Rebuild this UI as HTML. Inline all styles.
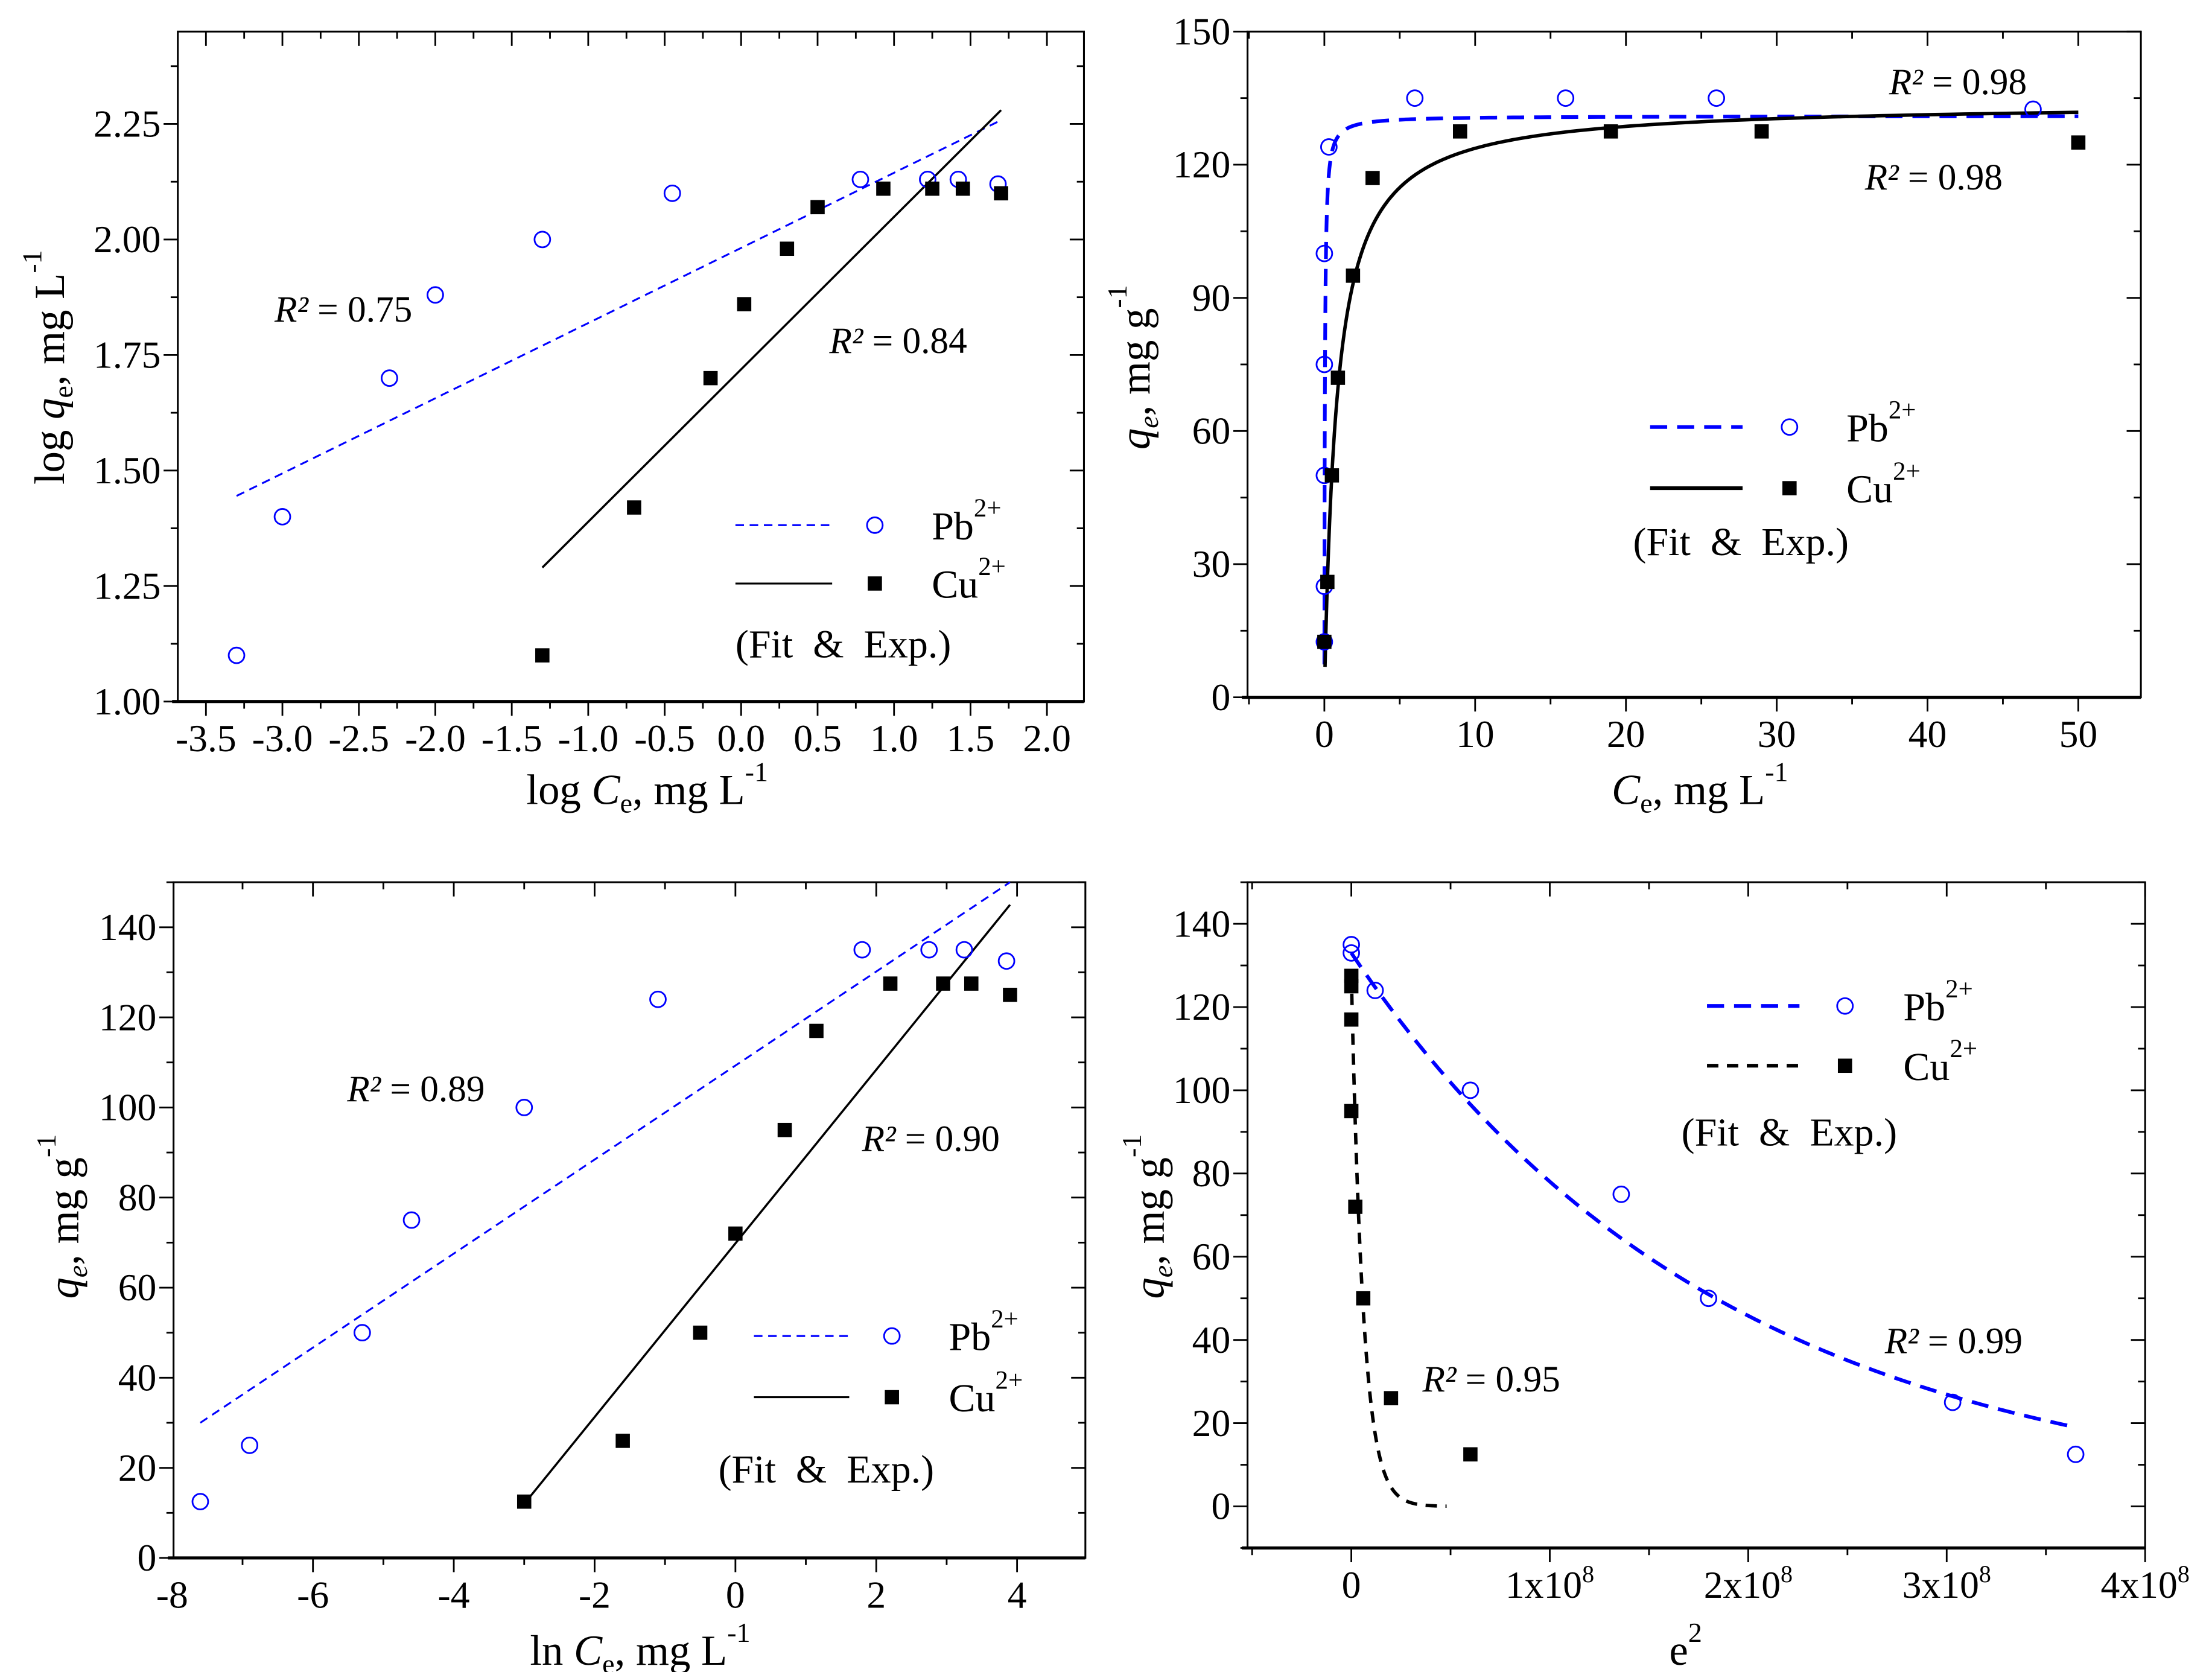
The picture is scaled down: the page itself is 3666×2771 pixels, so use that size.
<!DOCTYPE html>
<html><head><meta charset="utf-8"><style>
html,body{margin:0;padding:0;background:#fff;}
svg{display:block;font-family:"Liberation Serif","DejaVu Serif",serif;}
</style></head><body>
<svg id="fig" width="3666" height="2771" viewBox="0 0 1555 1175" xmlns="http://www.w3.org/2000/svg"></svg>
<script>
// ---------- data ----------
const p1PbX=[-3.3,-3.0,-2.3,-2.0,-1.3,-0.45,0.78,1.22,1.42,1.68];
const p1PbY=[1.10,1.40,1.70,1.88,2.00,2.10,2.13,2.13,2.13,2.12];
const p1CuX=[-1.3,-0.7,-0.2,0.02,0.3,0.5,0.93,1.25,1.45,1.7];
const p1CuY=[1.10,1.42,1.70,1.86,1.98,2.07,2.11,2.11,2.11,2.10];
const p1PbFit=[-3.3,1.445,1.68,2.255];
const p1CuFit=[-1.3,1.29,1.7,2.28];

const p2PbX=[0,0,0,0,0,0.3,6,16,26,47];
const p2PbY=[12.5,25,50,75,100,124,135,135,135,132.5];
const p2CuX=[0,0.2,0.5,0.9,1.9,3.2,9,19,29,50];
const p2CuY=[12.5,26,50,72,95,117,127.5,127.5,127.5,125];
const p2PbLang=[131,30,0.002,50]; // qm, K, cStart, cEnd
const p2CuLang=[134,1.2,0.045,50];

const p3PbX=[-7.6,-6.9,-5.3,-4.6,-3.0,-1.1,1.8,2.75,3.25,3.85];
const p3PbY=[12.5,25,50,75,100,124,135,135,135,132.5];
const p3CuX=[-3.0,-1.6,-0.5,0,0.7,1.15,2.2,2.95,3.35,3.9];
const p3CuY=[12.5,26,50,72,95,117,127.5,127.5,127.5,125];
const p3PbFit=[-7.6,30,3.9,150];
const p3CuFit=[-3.0,12,3.9,145];

const p4PbX=[0,0,0.12,0.6,1.36,1.8,3.03,3.65];
const p4PbY=[135,133,124,100,75,50,25,12.5];
const p4CuX=[0,0,0,0,0.02,0.06,0.2,0.6];
const p4CuY=[127.5,125,117,95,72,50,26,12.5];
const p4PbExp=[133,0.533,0,3.65];
const p4CuExp=[128,16.6,0,0.48];

const p1XTicks=[-3.5,-3.0,-2.5,-2.0,-1.5,-1.0,-0.5,0.0,0.5,1.0,1.5,2.0];
const p1YTicks=[1.00,1.25,1.50,1.75,2.00,2.25];
const p2XTicks=[0,10,20,30,40,50];
const p2YTicks=[0,30,60,90,120,150];
const p3XTicks=[-8,-6,-4,-2,0,2,4];
const p3YTicks=[0,20,40,60,80,100,120,140];
const p4XTicks=[0,1,2,3,4];
const p4YTicks=[0,20,40,60,80,100,120,140];

// ---------- helpers ----------
const NS="http://www.w3.org/2000/svg";
const svg=document.getElementById('fig');
function mk(tag,attrs,parent){const e=document.createElementNS(NS,tag);for(const k in attrs)e.setAttribute(k,attrs[k]);(parent||svg).appendChild(e);return e;}

function panel(cfg){
  const g=mk('g',{});
  
  
  const sx=v=>cfg.L+(v-cfg.xmin)/(cfg.xmax-cfg.xmin)*(cfg.R-cfg.L);
  const sy=v=>cfg.B-(v-cfg.ymin)/(cfg.ymax-cfg.ymin)*(cfg.B-cfg.T);
  const frame=mk('rect',{x:cfg.L,y:cfg.T,width:cfg.R-cfg.L,height:cfg.B-cfg.T,fill:'none',stroke:'#000','stroke-width':1.3},g);
  
  
  const xb=mk('line',{x1:cfg.L-4,x2:cfg.R,y1:cfg.B,y2:cfg.B,stroke:'#000','stroke-width':2.2},g);
  
  
  const xs=cfg.xminor;
  for(let v=Math.ceil((cfg.xmin-1e-9)/xs)*xs; v<=cfg.xmax+1e-9; v+=xs){
    const vv=Math.round(v*1000)/1000;
    const major=cfg.xTicks.some(t=>Math.abs(t-vv)<1e-6);
    const x=sx(vv), len=major?10:5;
    mk('line',{x1:x,x2:x,y1:cfg.B,y2:cfg.B+len,stroke:'#000','stroke-width':1.2},g);
    mk('line',{x1:x,x2:x,y1:cfg.T,y2:cfg.T+len,stroke:'#000','stroke-width':1.2},g);
  }
  cfg.xTicks.forEach((t,i)=>{
    const tx=mk('text',{x:sx(t),y:cfg.B+35,'font-size':27,'text-anchor':'middle'},g);
    
    
    if(cfg.sci && t!==0){tx.textContent=t+'x10';const s=mk('tspan',{dy:-11,'font-size':17},tx);s.textContent='8';}
    else tx.textContent=cfg.xfmt?cfg.xfmt(t):String(t);
  });
  const ys=cfg.yminor;
  for(let v=Math.ceil((cfg.ymin-1e-9)/ys)*ys; v<=cfg.ymax+1e-9; v+=ys){
    const vv=Math.round(v*1000)/1000;
    const major=cfg.yTicks.some(t=>Math.abs(t-vv)<1e-6);
    const y=sy(vv), len=major?10:5;
    mk('line',{x1:cfg.L-len,x2:cfg.L,y1:y,y2:y,stroke:'#000','stroke-width':1.2},g);
    mk('line',{x1:cfg.R-len,x2:cfg.R,y1:y,y2:y,stroke:'#000','stroke-width':1.2},g);
  }
  cfg.yTicks.forEach(t=>{
    const tx=mk('text',{x:cfg.L-12,y:sy(t)+9,'font-size':27,'text-anchor':'end'},g);
    
    
    tx.textContent=cfg.yfmt?cfg.yfmt(t):String(t);
  });
  return {g,sx,sy};
}
function circles(p,xs,ys,name){xs.forEach((x,i)=>{const c=mk('circle',{cx:p.sx(x),cy:p.sy(ys[i]),r:5.5,fill:'none',stroke:'#0000ff','stroke-width':1.2},p.g);
  
  });}
function squares(p,xs,ys,name){xs.forEach((x,i)=>{const r=mk('rect',{x:p.sx(x)-5,y:p.sy(ys[i])-5,width:10,height:10,fill:'#000'},p.g);
  
  });}
function line(p,f,color,dash,w,name){const l=mk('line',{x1:p.sx(f[0]),y1:p.sy(f[1]),x2:p.sx(f[2]),y2:p.sy(f[3]),stroke:color,'stroke-width':w,'stroke-dasharray':dash},p.g);
  
  }
function curve(p,fn,a,b,color,dash,w,name,log){let d='';const n=300;for(let i=0;i<=n;i++){let x=log?a*Math.pow(b/a,i/n):a+(b-a)*i/n;d+=(i?'L':'M')+p.sx(x).toFixed(2)+','+p.sy(fn(x)).toFixed(2);}
  const e=mk('path',{d,fill:'none',stroke:color,'stroke-width':w,'stroke-dasharray':dash},p.g);
  
  }
function text(g,x,y,size,parts,anchor,rot,name){
  const t=mk('text',{x,y,'font-size':size,'text-anchor':anchor||'start'},g);
  if(rot)t.setAttribute('transform','rotate(-90 '+x+' '+y+')');
  
  
  parts.forEach(pt=>{const s=mk('tspan',{},t);s.textContent=pt[0];
    if(pt[1]==='i')s.setAttribute('font-style','italic');
    if(pt[1]==='sub'){s.setAttribute('font-size',size*0.65);s.setAttribute('dy',6);}
    if(pt[1]==='subi'){s.setAttribute('font-size',size*0.65);s.setAttribute('dy',6);s.setAttribute('font-style','italic');}
    if(pt[1]==='sup'){s.setAttribute('font-size',size*0.65);s.setAttribute('dy',-16);}
    if(pt[1]==='down'){s.setAttribute('dy',-6);}
  });
  return t;}
function legend(p,x0,x1,yPb,yCu,mx,tx,fitY,fitX,pbDash,cuDash,w){
  const lg=mk('g',{},p.g);
  
  
  mk('line',{x1:x0,x2:x1,y1:yPb,y2:yPb,stroke:'#0000ff','stroke-width':w,'stroke-dasharray':pbDash},lg);
  mk('circle',{cx:mx,cy:yPb,r:5.5,fill:'none',stroke:'#0000ff','stroke-width':1.2},lg);
  text(lg,tx,yPb+10,28,[['Pb'],['2+','sup']],'start',false,'legend-pb-label');
  mk('line',{x1:x0,x2:x1,y1:yCu,y2:yCu,stroke:'#000','stroke-width':w,'stroke-dasharray':cuDash},lg);
  mk('rect',{x:mx-5,y:yCu-5,width:10,height:10,fill:'#000'},lg);
  text(lg,tx,yCu+10,28,[['Cu'],['2+','sup']],'start',false,'legend-cu-label');
  text(lg,fitX,fitY,28,[['(Fit\u00a0 &\u00a0 Exp.)']],'start',false,'legend-fit-exp-label');
}
function r2(g,x,y,val,name){text(g,x,y,26,[['R','i'],['²','i'],[' = '+val]],'start',false,name);}

// ---------- panel 1 ----------
const P1=panel({name:'panel-freundlich-log',L:125,R:762,T:22,B:493,xmin:-3.684,xmax:2.242,ymin:1.0,ymax:2.45,
  xTicks:p1XTicks,yTicks:p1YTicks,xminor:0.25,yminor:0.125,xfmt:v=>v.toFixed(1),yfmt:v=>v.toFixed(2)});
line(P1,p1PbFit,'#0000ff','6,4',1.3,'pb-fit-line');
line(P1,p1CuFit,'#000','none',1.5,'cu-fit-line');
circles(P1,p1PbX,p1PbY,'pb-point');
squares(P1,p1CuX,p1CuY,'cu-point');
legend(P1,517,585,369,410,615,655,462,517,'6,4','none',1.3);
r2(P1.g,193,226,'0.75','r2-pb');r2(P1.g,583,248,'0.84','r2-cu');
text(P1.g,455,565,30,[['log '],['C','i'],['e','sub'],[', mg L','down'],['-1','sup']],'middle',false,'x-axis-title');
text(P1.g,45,258,30,[['log '],['q','i'],['e','sub'],[', mg L','down'],['-1','sup']],'middle',true,'y-axis-title');

// ---------- panel 2 ----------
const P2=panel({name:'panel-langmuir',L:877,R:1505,T:22,B:490,xmin:-5.094,xmax:54.15,ymin:0,ymax:150,
  xTicks:p2XTicks,yTicks:p2YTicks,xminor:5,yminor:15});
curve(P2,c=>p2PbLang[0]*p2PbLang[1]*c/(1+p2PbLang[1]*c),p2PbLang[2],p2PbLang[3],'#0000ff','12,7',2.6,'pb-fit-curve',true);
curve(P2,c=>p2CuLang[0]*p2CuLang[1]*c/(1+p2CuLang[1]*c),p2CuLang[2],p2CuLang[3],'#000','none',2.4,'cu-fit-curve',true);
circles(P2,p2PbX,p2PbY,'pb-point');
squares(P2,p2CuX,p2CuY,'cu-point');
legend(P2,1160,1225,300,343,1258,1298,390,1148,'12,7','none',2.6);
r2(P2.g,1328,66,'0.98','r2-pb');r2(P2.g,1311,133,'0.98','r2-cu');
text(P2.g,1195,565,30,[['C','i'],['e','sub'],[', mg L','down'],['-1','sup']],'middle',false,'x-axis-title');
text(P2.g,808,258,30,[['q','i'],['e','subi'],[', mg g','down'],['-1','sup']],'middle',true,'y-axis-title');

// ---------- panel 3 ----------
const P3=panel({name:'panel-temkin',L:122,R:763,T:620,B:1095,xmin:-7.98,xmax:4.97,ymin:0,ymax:150,
  xTicks:p3XTicks,yTicks:p3YTicks,xminor:1,yminor:10});
line(P3,p3PbFit,'#0000ff','6,4',1.3,'pb-fit-line');
line(P3,p3CuFit,'#000','none',1.5,'cu-fit-line');
circles(P3,p3PbX,p3PbY,'pb-point');
squares(P3,p3CuX,p3CuY,'cu-point');
legend(P3,530,597,939,982,627,667,1042,505,'6,4','none',1.3);
r2(P3.g,244,774,'0.89','r2-pb');r2(P3.g,606,809,'0.90','r2-cu');
text(P3.g,450,1170,30,[['ln '],['C','i'],['e','sub'],[', mg L','down'],['-1','sup']],'middle',false,'x-axis-title');
text(P3.g,55,855,30,[['q','i'],['e','subi'],[', mg g','down'],['-1','sup']],'middle',true,'y-axis-title');

// ---------- panel 4 ----------
const P4=panel({name:'panel-dubinin',L:877,R:1508,T:620,B:1088,xmin:-0.523,xmax:4.0,ymin:-10,ymax:150,
  xTicks:p4XTicks,yTicks:p4YTicks,xminor:0.5,yminor:10,sci:true});
curve(P4,x=>p4PbExp[0]*Math.exp(-p4PbExp[1]*x),p4PbExp[2],p4PbExp[3],'#0000ff','12,7',2.6,'pb-fit-curve',false);
curve(P4,x=>p4CuExp[0]*Math.exp(-p4CuExp[1]*x),p4CuExp[2],p4CuExp[3],'#000','8,6',2.4,'cu-fit-curve',false);
circles(P4,p4PbX,p4PbY,'pb-point');
squares(P4,p4CuX,p4CuY,'cu-point');
legend(P4,1200,1265,707,749,1297,1338,805,1182,'12,7','8,6',2.6);
r2(P4.g,1325,951,'0.99','r2-pb');r2(P4.g,1000,978,'0.95','r2-cu');
text(P4.g,1185,1170,30,[['e'],['2','sup']],'middle',false,'x-axis-title');
text(P4.g,818,855,30,[['q','i'],['e','subi'],[', mg g','down'],['-1','sup']],'middle',true,'y-axis-title');
</script>
</body></html>
